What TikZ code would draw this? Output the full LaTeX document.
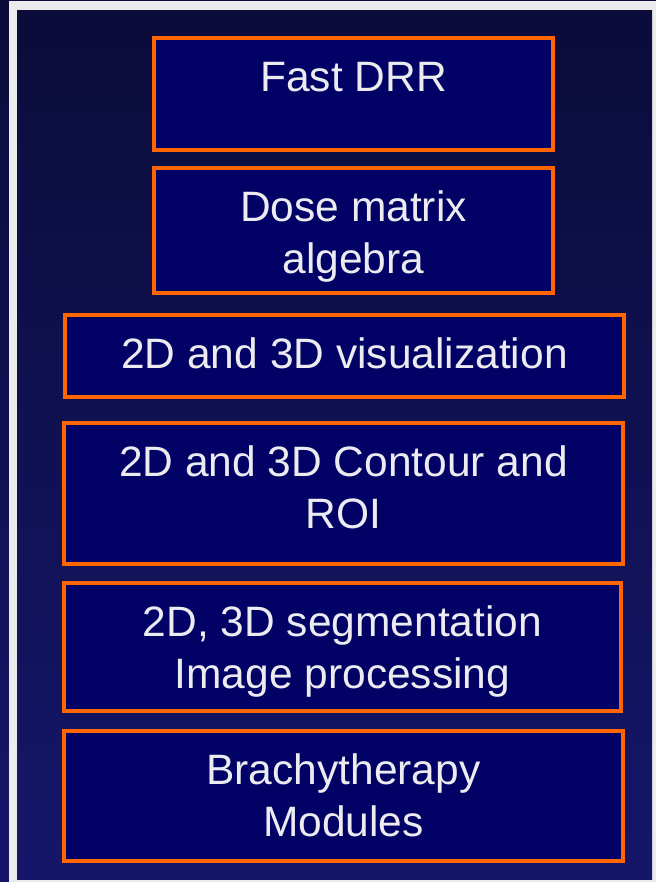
\documentclass[tikz,border=0pt]{standalone}
\usepackage{fontspec}
\setmainfont{Liberation Sans}
\definecolor{panelTop}{HTML}{0B0C3A}
\definecolor{panelBot}{HTML}{15166A}
\definecolor{frameGray}{HTML}{EBEBEB}
\definecolor{boxFill}{HTML}{010166}
\definecolor{boxLine}{HTML}{FF6600}
\definecolor{labelInk}{HTML}{EBEBF0}
\tikzset{
  modbox/.style={draw=boxLine, fill=boxFill, line width=4bp, inner sep=0pt,
    rectangle},
  % anchor=base of a multi-line label sits on its last line
  modlabel/.style={text=labelInk, align=center, inner sep=0pt,
    font=\fontsize{42.5bp}{52bp}\selectfont, anchor=base},
}
\begin{document}
\begin{tikzpicture}[x=1bp, y=-1bp]
  \useasboundingbox (0,0) rectangle (656,882);
  % outer background and light frame
  \shade[top color=panelTop, bottom color=panelBot] (0,0) rectangle (656,882);
  \fill[frameGray] (9,1) rectangle (656,882);
  \shade[top color=panelTop, bottom color=panelBot] (17,10) rectangle (652,879);

  % module boxes
  \node[modbox, minimum width=399bp, minimum height=112bp] (b1) at (353.5,94) {};
  \node[modbox, minimum width=399bp, minimum height=125bp] (b2) at (353.5,230.5) {};
  \node[modbox, minimum width=559bp, minimum height=82bp]  (b3) at (344.5,356) {};
  \node[modbox, minimum width=559bp, minimum height=141bp] (b4) at (343.5,493.5) {};
  \node[modbox, minimum width=557bp, minimum height=128bp] (b5) at (342.5,647) {};
  \node[modbox, minimum width=559bp, minimum height=130bp] (b6) at (343.5,796) {};

  % labels, first baseline about 55bp below each box top
  \node[modlabel] (t1) at ([yshift=-55bp]b1.north) {Fast DRR};
  \node[modlabel] (t2) at ([yshift=-107bp]b2.north) {Dose matrix\\algebra};
  \node[modlabel] (t3) at ([yshift=-55bp]b3.north) {2D and 3D visualization};
  \node[modlabel] (t4) at ([yshift=-107bp]b4.north) {2D and 3D Contour and\\ROI};
  \node[modlabel] (t5) at ([yshift=-107bp]b5.north) {2D, 3D segmentation\\Image processing};
  \node[modlabel] (t6) at ([yshift=-107bp]b6.north) {Brachytherapy\\Modules};
\end{tikzpicture}
\end{document}
